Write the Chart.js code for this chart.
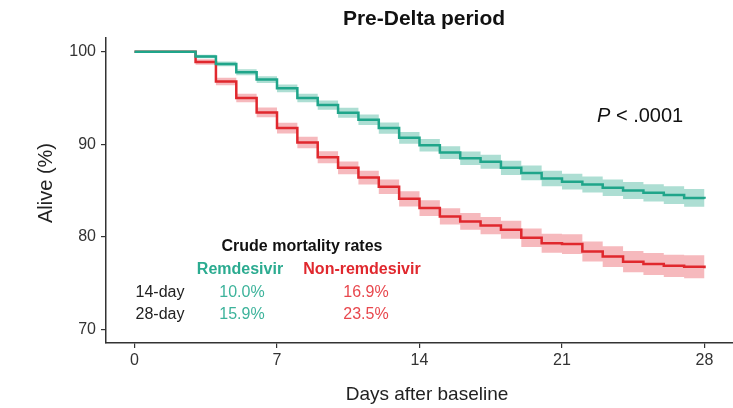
<!DOCTYPE html>
<html lang="en">

<head>
    <meta charset="UTF-8">
    <title>Pre-Delta period</title>
    <style>
        html, body { margin: 0; padding: 0; background: #fff; }
        #wrap { width: 733px; height: 408px; }
    </style>
</head>

<body>
    <div id="wrap">
        <canvas id="myChart" width="733" height="408"></canvas>
    </div>

    <script src="https://cdn.jsdelivr.net/npm/chart.js"></script>
    <script>
        // days after baseline
        var days = [0, 1, 2, 3, 4, 5, 6, 7, 8, 9, 10, 11, 12, 13, 14, 15, 16, 17, 18, 19, 20, 21, 22, 23, 24, 25, 26, 27, 28];

        // Kaplan-Meier survival (%)
        var remdesivir = [100, 100, 100, 99.5, 98.7, 97.8, 97.0, 96.05, 95.0, 94.25, 93.4, 92.65, 91.75, 90.7, 89.9,
            89.1, 88.5, 88.1, 87.45, 86.9, 86.3, 85.95, 85.65, 85.3, 85.0, 84.75, 84.5, 84.2, 84.1];
        var remUpper = [100, 100, 100, 99.7, 98.95, 98.12, 97.37, 96.47, 95.46, 94.75, 93.94, 93.22, 92.35, 91.34, 90.57,
            89.8, 89.23, 88.86, 88.23, 87.7, 87.13, 86.8, 86.52, 86.19, 85.91, 85.68, 85.45, 85.17, 85.1];
        var remLower = [100, 100, 100, 99.3, 98.45, 97.48, 96.63, 95.63, 94.54, 93.75, 92.86, 92.08, 91.15, 90.06, 89.23,
            88.4, 87.77, 87.34, 86.67, 86.1, 85.47, 85.1, 84.78, 84.41, 84.09, 83.82, 83.55, 83.23, 83.1];

        var nonRemdesivir = [100, 100, 100, 98.9, 96.8, 95.0, 93.45, 91.75, 90.2, 88.6, 87.45, 86.4, 85.4, 84.1, 83.1,
            82.2, 81.65, 81.2, 80.75, 79.9, 79.3, 79.2, 78.4, 77.85, 77.3, 77.05, 76.85, 76.75, 76.6];
        var nonUpper = [100, 100, 100, 99.2, 97.2, 95.46, 93.97, 92.32, 90.82, 89.26, 88.15, 87.14, 86.18, 84.92, 83.95,
            83.08, 82.56, 82.14, 81.72, 80.9, 80.33, 80.26, 79.49, 78.97, 78.45, 78.23, 78.06, 77.99, 77.87];
        var nonLower = [100, 100, 100, 98.6, 96.4, 94.54, 92.93, 91.18, 89.58, 87.94, 86.75, 85.66, 84.62, 83.28, 82.25,
            81.32, 80.74, 80.26, 79.78, 78.9, 78.27, 78.14, 77.31, 76.73, 76.15, 75.87, 75.64, 75.51, 75.33];

        // tick labels
        var xTicks = [0, 7, 14, 21, 28];
        var yTicks = [70, 80, 90, 100];

        // crude mortality table
        var rateRows = ['14-day', '28-day'];
        var rateRem = ['10.0%', '15.9%'];
        var rateNon = ['16.9%', '23.5%'];

        var green = '#1fa58a';
        var red = '#e0282e';
        var sans = "'Liberation Sans', Arial, sans-serif";

        function pts(arr) {
            return arr.map(function (v, i) { return { x: days[i], y: v }; });
        }

        //文字(標題、軸標題、P值、死亡率表)
        var textPlugin = {
            id: 'texts',
            afterDraw: function (chart) {
                var ctx = chart.ctx;
                ctx.save();
                ctx.textBaseline = 'alphabetic';
                ctx.textAlign = 'center';

                ctx.fillStyle = '#111';
                ctx.font = 'bold 21px ' + sans;
                ctx.fillText('Pre-Delta period', 424, 25);

                ctx.fillStyle = '#222';
                ctx.font = '19px ' + sans;
                ctx.fillText('Days after baseline', 427, 400);

                ctx.save();
                ctx.translate(52, 183);
                ctx.rotate(-Math.PI / 2);
                ctx.font = '20px ' + sans;
                ctx.fillText('Alive (%)', 0, 0);
                ctx.restore();

                // P value
                ctx.textAlign = 'left';
                ctx.font = 'italic 20px ' + sans;
                ctx.fillStyle = '#111';
                ctx.fillText('P', 597, 122);
                var pw = ctx.measureText('P').width;
                ctx.font = '20px ' + sans;
                ctx.fillText(' < .0001', 597 + pw, 122);

                // table
                ctx.textAlign = 'center';
                ctx.font = 'bold 16px ' + sans;
                ctx.fillStyle = '#111';
                ctx.fillText('Crude mortality rates', 302, 251);
                ctx.fillStyle = '#2bab90';
                ctx.fillText('Remdesivir', 240, 274);
                ctx.fillStyle = red;
                ctx.fillText('Non-remdesivir', 362, 274);

                ctx.font = '16px ' + sans;
                rateRows.forEach(function (row, i) {
                    var y = 297 + i * 22;
                    ctx.fillStyle = '#222';
                    ctx.fillText(row, 160, y);
                    ctx.fillStyle = '#3db39b';
                    ctx.fillText(rateRem[i], 242, y);
                    ctx.fillStyle = '#e8474d';
                    ctx.fillText(rateNon[i], 366, y);
                });
                ctx.restore();
            }
        };

        const ctx = document.getElementById('myChart');
        var myChart = new Chart(ctx, {
            type: 'line',
            data: {
                datasets: [
                    { data: pts(remdesivir), borderColor: green, borderWidth: 2.5, stepped: true, pointRadius: 0, fill: false },
                    { data: pts(nonRemdesivir), borderColor: red, borderWidth: 2.5, stepped: true, pointRadius: 0, fill: false },
                    { data: pts(remUpper), borderWidth: 0, borderColor: 'rgba(0,0,0,0)', stepped: true, pointRadius: 0, fill: '+1', backgroundColor: 'rgba(40,168,140,0.38)' },
                    { data: pts(remLower), borderWidth: 0, borderColor: 'rgba(0,0,0,0)', stepped: true, pointRadius: 0, fill: false },
                    { data: pts(nonUpper), borderWidth: 0, borderColor: 'rgba(0,0,0,0)', stepped: true, pointRadius: 0, fill: '+1', backgroundColor: 'rgba(232,72,82,0.38)' },
                    { data: pts(nonLower), borderWidth: 0, borderColor: 'rgba(0,0,0,0)', stepped: true, pointRadius: 0, fill: false }
                ]
            },
            options: {
                responsive: false,
                animation: false,
                layout: { padding: { top: 38, right: 0, left: 0, bottom: 0 } },
                plugins: {
                    legend: { display: false },
                    tooltip: { enabled: false }
                },
                scales: {
                    x: {
                        type: 'linear',
                        min: -1.4,
                        max: 29.4,
                        afterBuildTicks: function (scale) {
                            scale.ticks = xTicks.map(function (v) { return { value: v }; });
                        },
                        afterFit: function (scale) { scale.height = 65; },
                        grid: { drawOnChartArea: false, drawTicks: true, tickLength: 5, color: '#333', lineWidth: 1.2 },
                        border: { display: true, color: '#333', width: 1.5 },
                        ticks: { color: '#333', font: { size: 16, family: sans }, padding: 3, maxRotation: 0 }
                    },
                    y: {
                        min: 68.5,
                        max: 101.5,
                        afterBuildTicks: function (scale) {
                            scale.ticks = yTicks.map(function (v) { return { value: v }; });
                        },
                        afterFit: function (scale) { scale.width = 106; },
                        grid: { drawOnChartArea: false, drawTicks: true, tickLength: 5, color: '#333', lineWidth: 1.2 },
                        border: { display: true, color: '#333', width: 1.5 },
                        ticks: { color: '#333', font: { size: 16, family: sans }, padding: 5 }
                    }
                }
            },
            plugins: [textPlugin]
        });
    </script>
</body>

</html>
